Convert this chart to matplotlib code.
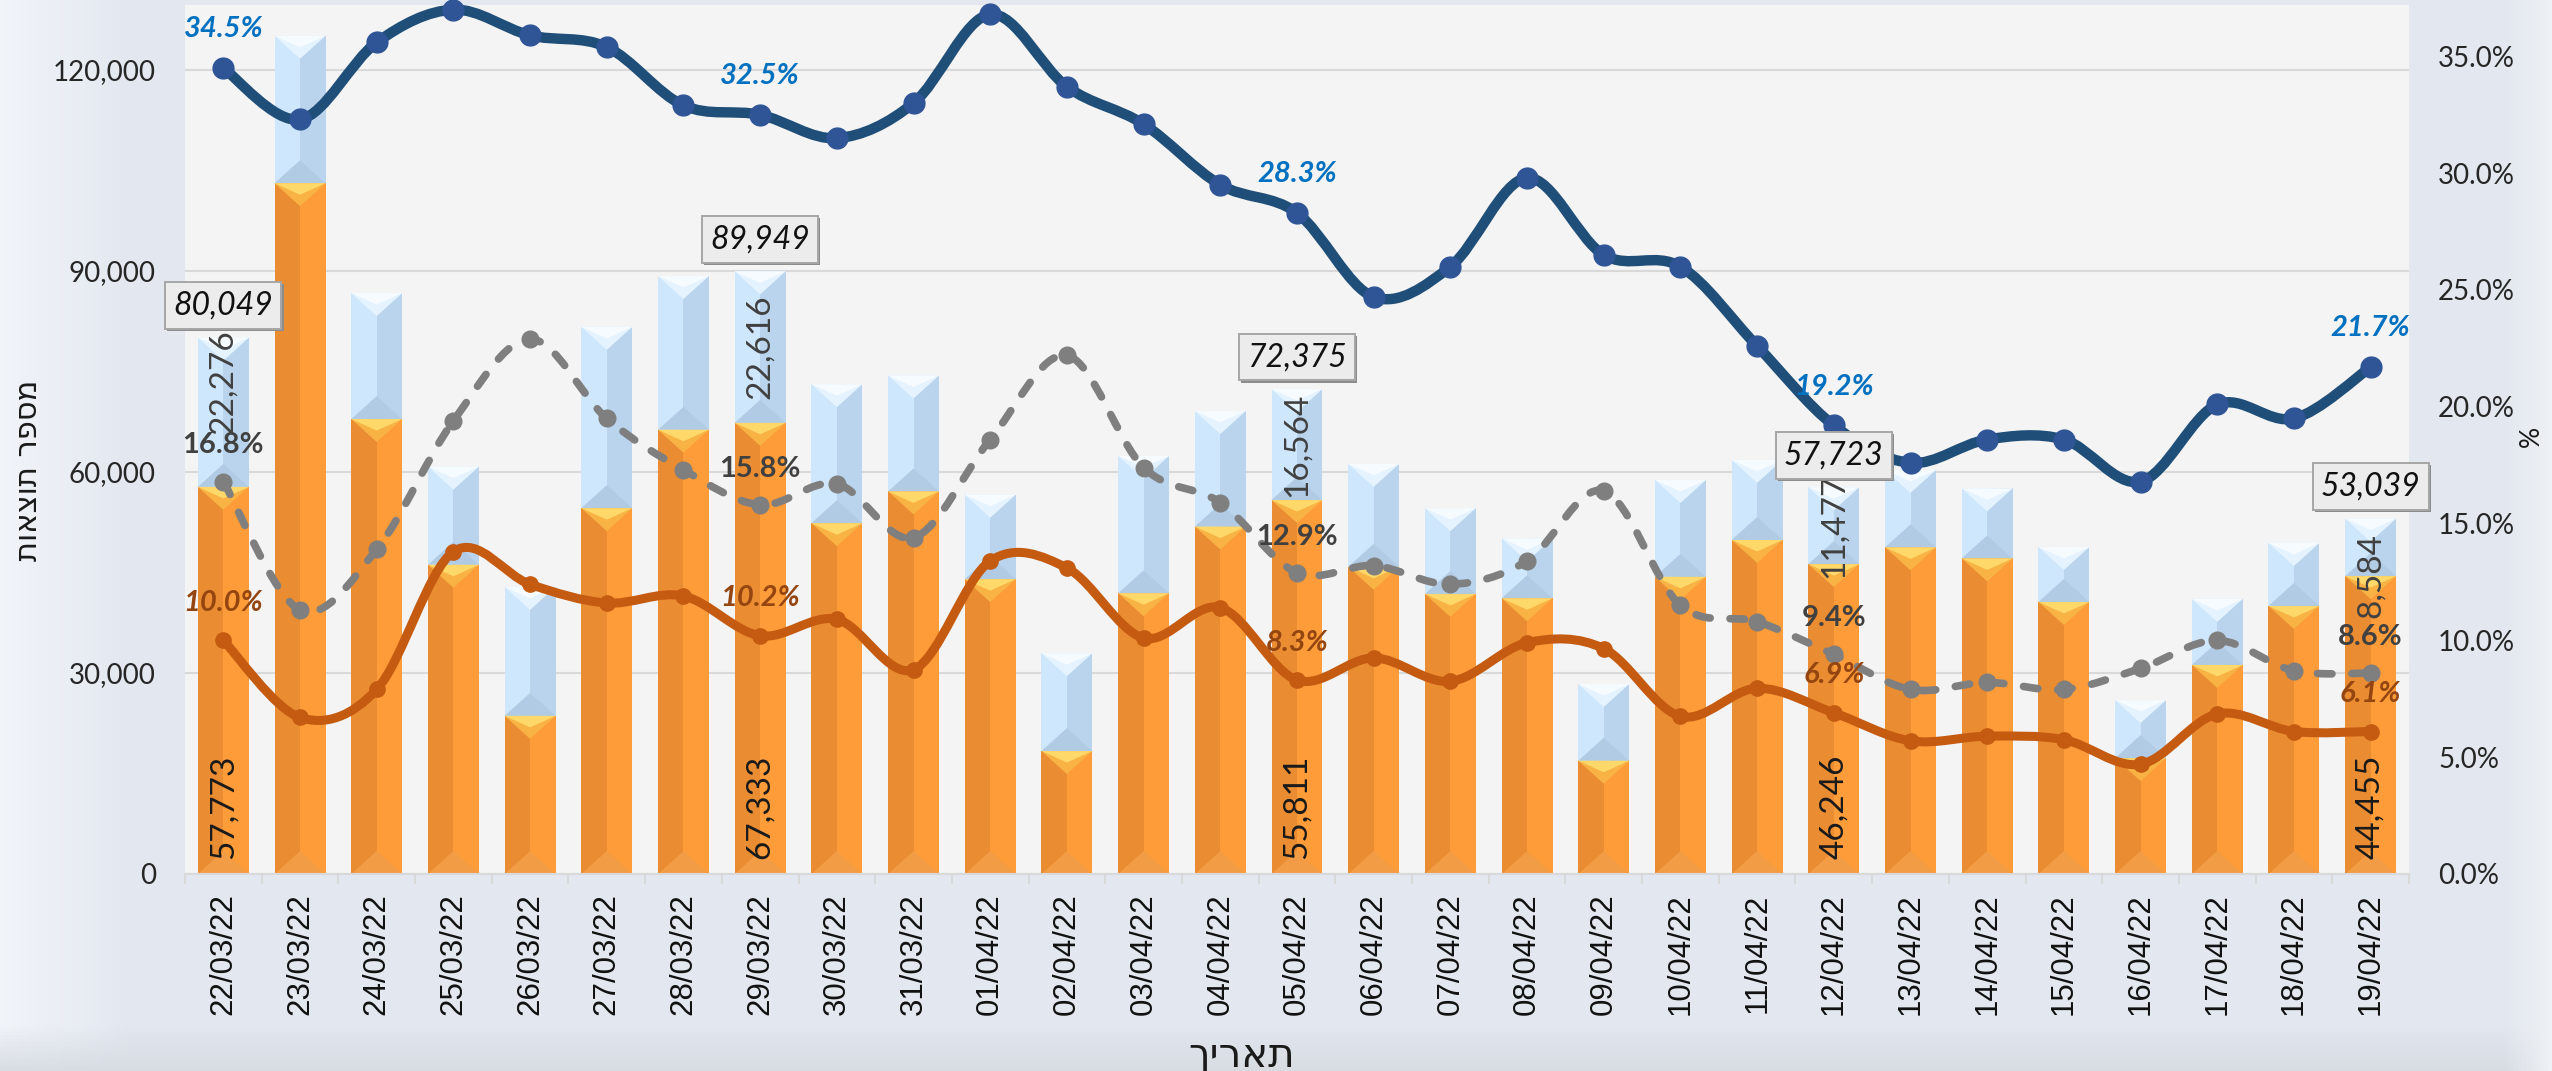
import numpy as np
import matplotlib
matplotlib.use("Agg")
import matplotlib.pyplot as plt
from matplotlib.path import Path
from matplotlib.patches import PathPatch
from matplotlib.collections import PolyCollection
from matplotlib.ticker import MultipleLocator, FuncFormatter, FixedLocator

plt.rcParams["font.family"] = ["Lato", "DejaVu Sans"]

# ---- data ----
dates = ["22/03/22", "23/03/22", "24/03/22", "25/03/22", "26/03/22", "27/03/22",
         "28/03/22", "29/03/22", "30/03/22", "31/03/22", "01/04/22", "02/04/22",
         "03/04/22", "04/04/22", "05/04/22", "06/04/22", "07/04/22", "08/04/22",
         "09/04/22", "10/04/22", "11/04/22", "12/04/22", "13/04/22", "14/04/22",
         "15/04/22", "16/04/22", "17/04/22", "18/04/22", "19/04/22"]

# orange (lower) part of each bar
tests_lower = [57773, 103100, 67900, 46150, 23600, 54600, 66300, 67333, 52350, 57100,
               44000, 18350, 41900, 51850, 55811, 45850, 41800, 41150, 16900, 44350,
               49850, 46246, 48750, 47100, 40600, 17300, 31200, 40000, 44455]
# light blue (upper) part of each bar
tests_upper = [22276, 22000, 18800, 14650, 19250, 27050, 22950, 22616, 20750, 17300,
               12600, 14600, 20500, 17250, 16564, 15350, 12800, 8950, 11450, 14450,
               11950, 11477, 11550, 10450, 8200, 8650, 9850, 9400, 8584]

# percentages (secondary axis)
rate_blue = [34.5, 32.3, 35.6, 37.0, 35.9, 35.4, 32.9, 32.5, 31.5, 33.0,
             36.8, 33.7, 32.1, 29.5, 28.3, 24.7, 26.0, 29.8, 26.5, 26.0,
             22.6, 19.2, 17.6, 18.6, 18.6, 16.8, 20.1, 19.5, 21.7]
rate_gray = [16.8, 11.3, 13.9, 19.4, 22.9, 19.5, 17.3, 15.8, 16.7, 14.4,
             18.6, 22.2, 17.4, 15.9, 12.9, 13.2, 12.4, 13.4, 16.4, 11.5,
             10.8, 9.4, 7.9, 8.2, 7.9, 8.8, 10.0, 8.7, 8.6]
rate_orange = [10.0, 6.7, 7.9, 13.8, 12.4, 11.6, 11.9, 10.2, 10.9, 8.75,
               13.4, 13.1, 10.1, 11.4, 8.3, 9.25, 8.25, 9.9, 9.65, 6.75,
               7.95, 6.9, 5.7, 5.9, 5.75, 4.7, 6.85, 6.1, 6.1]

labeled = [0, 7, 14, 21, 28]


def smooth_path(xs, ys):
    # excel-like smoothed line, cubic bezier through every point
    pts = np.column_stack([xs, ys]).astype(float)
    n = len(pts)
    verts = [pts[0]]
    codes = [Path.MOVETO]
    for i in range(n - 1):
        p0 = pts[i - 1] if i > 0 else pts[i]
        p1 = pts[i]
        p2 = pts[i + 1]
        p3 = pts[i + 2] if i + 2 < n else pts[i + 1]
        verts += [p1 + (p2 - p0) / 6, p2 - (p3 - p1) / 6, p2]
        codes += [Path.CURVE4] * 3
    return Path(verts, codes)


W, H = 2552, 1071
fig = plt.figure(figsize=(W / 100, H / 100), dpi=100)

# background with soft bevels
bg = fig.add_axes([0, 0, 1, 1], zorder=-10)
bg.axis("off")
gx, gy = np.meshgrid(np.linspace(0, 1, 600), np.linspace(0, 1, 300))
base = np.array([0xe3, 0xe8, 0xf0]) / 255
light = np.array([0xf1, 0xf4, 0xf9]) / 255
img = np.ones(gx.shape + (3,)) * base
t = np.clip(1 - gx / 0.05, 0, 1)
img = img + (light - img) * t[..., None]
bot = np.clip((gy - (1 - 45 / H)) / (45 / H), 0, 1)
img = img + (np.array([0xd6, 0xdb, 0xe2]) / 255 - img) * (bot[..., None] * 0.9)
rgt = np.clip((gx - (1 - 45 / W)) / (45 / W), 0, 1)
img = img + (np.array([0xee, 0xf1, 0xf5]) / 255 - img) * rgt[..., None]
bg.imshow(img, aspect="auto", extent=[0, 1, 0, 1], origin="upper")
bg.set_xlim(0, 1)
bg.set_ylim(0, 1)

ax = fig.add_axes([185 / W, 1 - 874 / H, 2224 / W, 869 / H])
ax.set_facecolor("#f4f4f4")
ax.set_xlim(-0.5, len(dates) - 0.5)
ax.set_ylim(0, 129700)

xs = np.arange(len(dates))
w = 0.665
bev = 3430  # bevel depth in data units

lower = np.array(tests_lower)
upper = np.array(tests_upper)
top = lower + upper

ax.bar(xs, lower, w, color="#ea8c31", zorder=2)
ax.bar(xs + w / 4, lower, w / 2, color="#fd9c38", zorder=2)
ax.bar(xs, upper, w, bottom=lower, color="#cfe7fc", zorder=2)
ax.bar(xs + w / 4, upper, w / 2, bottom=lower, color="#b9d4ec", zorder=2)


def tris(bottoms, heights, frac, up):
    out = []
    for x, b, h in zip(xs, bottoms, heights):
        dd = min(bev * frac, h * 0.45 * frac)
        if up:
            out.append([(x - w / 2, b), (x + w / 2, b), (x, b + dd)])
        else:
            out.append([(x - w / 2, b + h), (x + w / 2, b + h), (x, b + h - dd)])
    return out


zeros = np.zeros(len(xs))
ax.add_collection(PolyCollection(tris(zeros, lower, 1, True), facecolors="#f29c45",
                                 edgecolors="none", zorder=2.5))
ax.add_collection(PolyCollection(tris(zeros, lower, 1, False), facecolors="#f9b244",
                                 edgecolors="none", zorder=2.5))
ax.add_collection(PolyCollection(tris(zeros, lower, 0.5, False), facecolors="#ffd86a",
                                 edgecolors="none", zorder=2.6))
ax.add_collection(PolyCollection(tris(lower, upper, 1, True), facecolors="#b1cbe4",
                                 edgecolors="none", zorder=2.5))
ax.add_collection(PolyCollection(tris(lower, upper, 1, False), facecolors="#e4f3ff",
                                 edgecolors="none", zorder=2.5))
ax.add_collection(PolyCollection(tris(lower, upper, 0.5, False), facecolors="#f6fbff",
                                 edgecolors="none", zorder=2.6))

# axes styling
ax.yaxis.set_major_locator(MultipleLocator(30000))
ax.yaxis.set_major_formatter(FuncFormatter(lambda v, p: f"{v:,.0f}"))
ax.grid(axis="y", color="#d9d9d9", lw=1.5)
ax.set_axisbelow(True)
for s in ["top", "left", "right"]:
    ax.spines[s].set_visible(False)
ax.spines["bottom"].set_color("#d9d9d9")
ax.spines["bottom"].set_linewidth(1.5)
ax.set_xticks(xs)
ax.set_xticklabels(dates, rotation=90, fontsize=22.5, family="Liberation Sans", color="#111111")
ax.xaxis.set_minor_locator(FixedLocator(np.arange(-0.5, len(dates), 1)))
ax.tick_params(axis="x", which="major", length=0, pad=14)
ax.tick_params(axis="x", which="minor", length=7, width=1.5, color="#d9d9d9")
ax.tick_params(axis="y", length=0, pad=21, labelsize=20, labelcolor="#262626")

ax2 = ax.twinx()
ax2.set_ylim(0, 37.2)
ax2.yaxis.set_major_locator(MultipleLocator(5))
ax2.yaxis.set_major_formatter(FuncFormatter(lambda v, p: f"{v:.1f}%"))
ax2.tick_params(axis="y", length=0, pad=21, labelsize=20, labelcolor="#262626")
for s in ax2.spines.values():
    s.set_visible(False)

# lines
ax2.add_patch(PathPatch(smooth_path(xs, rate_blue), fill=False, ec="#1f4e79", lw=7.5,
                        capstyle="round", joinstyle="round", zorder=3))
ax2.plot(xs, rate_blue, "o", ms=15, color="#2f5597", zorder=3.1, clip_on=False)

ax2.add_patch(PathPatch(smooth_path(xs, rate_gray), fill=False, ec="#7f7f7f", lw=5.5,
                        ls=(0, (1.9, 2.6)), capstyle="round", zorder=3))
ax2.plot(xs, rate_gray, "o", ms=12, color="#7f7f7f", zorder=3.1)

ax2.add_patch(PathPatch(smooth_path(xs, rate_orange), fill=False, ec="#c55a11", lw=6.5,
                        capstyle="round", joinstyle="round", zorder=3))
ax2.plot(xs, rate_orange, "o", ms=11, color="#c55a11", zorder=3.1)

# labels
for i in labeled:
    ax2.annotate(f"{rate_blue[i]:.1f}%", (i, rate_blue[i]), xytext=(0, 28),
                 textcoords="offset points", ha="center", va="center", color="#0070c0",
                 fontsize=21, fontweight="bold", fontstyle="italic", zorder=5)
    ax2.annotate(f"{rate_gray[i]:.1f}%", (i, rate_gray[i]), xytext=(0, 26),
                 textcoords="offset points", ha="center", va="center", color="#404040",
                 fontsize=21, fontweight="bold", zorder=5)
    ax2.annotate(f"{rate_orange[i]:.1f}%", (i, rate_orange[i]), xytext=(0, 27),
                 textcoords="offset points", ha="center", va="center", color="#944510",
                 fontsize=21, fontweight="bold", fontstyle="italic", zorder=5)

    ax2.annotate(f"{lower[i]:,}", (i, 0), xycoords=ax.transData, xytext=(0, 11),
                 textcoords="offset points", rotation=90, ha="center", va="bottom",
                 fontsize=24, color="#1a1a1a", zorder=4)
    shift = {0: 22, 28: -20}.get(i, 0)
    ax2.annotate(f"{upper[i]:,}", (i, lower[i] + upper[i] / 2), xycoords=ax.transData,
                 xytext=(0, shift), textcoords="offset points", rotation=90,
                 ha="center", va="center", fontsize=24, color="#404040", zorder=4)
    # shadow + box for the total
    ax2.annotate(f"{top[i]:,}", (i, top[i]), xycoords=ax.transData, xytext=(1.5, 21.5),
                 textcoords="offset points", ha="center", va="center", fontsize=23,
                 fontstyle="italic", color="none", zorder=5.9,
                 bbox=dict(boxstyle="square,pad=0.26", fc="#8c8c8c", ec="none"))
    ax2.annotate(f"{top[i]:,}", (i, top[i]), xycoords=ax.transData, xytext=(0, 23),
                 textcoords="offset points", ha="center", va="center", fontsize=23,
                 fontstyle="italic", color="#111111", zorder=6,
                 bbox=dict(boxstyle="square,pad=0.26", fc="#ececec", ec="#a6a6a6", lw=1.4))

# axis titles
fig.text(29 / W, 1 - 470 / H, "מספר תוצאות"[::-1], rotation=90, ha="center", va="center",
         fontsize=22, family="DejaVu Sans", color="#1a1a1a")
fig.text(1242 / W, 1 - 1056 / H, "תאריך"[::-1], ha="center", va="center",
         fontsize=29, family="DejaVu Sans", color="#1a1a1a")
fig.text(2531 / W, 1 - 436 / H, "%", rotation=90, ha="center", va="center",
         fontsize=19, color="#1a1a1a")

fig.savefig("out.png", dpi=100)
